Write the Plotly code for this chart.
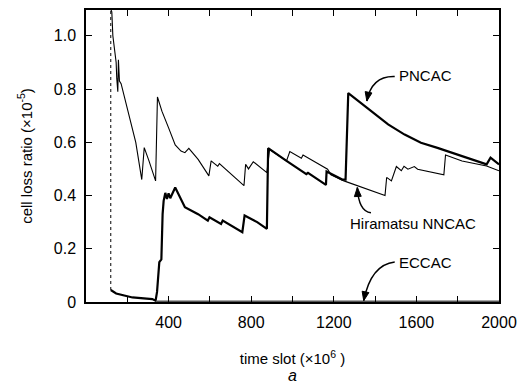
import math
import plotly.graph_objects as go

# Hiramatsu NNCAC (thin line) – initial dotted jump then solid sawtooth decay
hira_jump_t = [120, 120]
hira_jump_y = [0.045, 1.10]
hira_t = [120, 125, 130, 138, 146, 149, 154, 157, 162, 170, 186, 210, 241, 270, 282, 305, 337, 346,
          368, 400, 432, 460, 479, 498, 543, 595, 606, 622, 638, 646, 702, 765, 773, 787, 810,
          876, 889, 924, 971, 987, 1043, 1051, 1170, 1186, 1249, 1448, 1456, 1479, 1503, 1527,
          1540, 1559, 1590, 1606, 1733, 1741, 1781, 1821, 1940, 2000]
hira_y = [1.10, 1.09, 1.00, 0.94, 0.90, 0.84, 0.79, 0.91, 0.83, 0.82, 0.77, 0.70, 0.60, 0.46, 0.58, 0.53,
          0.455, 0.77, 0.716, 0.654, 0.59, 0.567, 0.561, 0.577, 0.536, 0.474, 0.53, 0.52, 0.51,
          0.52, 0.48, 0.437, 0.517, 0.50, 0.527, 0.486, 0.573, 0.555, 0.53, 0.565, 0.54, 0.552,
          0.499, 0.478, 0.455, 0.40, 0.468, 0.455, 0.509, 0.493, 0.51, 0.499, 0.509, 0.499,
          0.478, 0.552, 0.542, 0.53, 0.511, 0.493]

# PNCAC (thick line)
pn_t = [120, 146, 225, 321, 337, 344, 355, 365, 371, 376, 384, 392, 400, 408, 432, 479, 543, 590,
        598, 654, 662, 757, 768, 829, 876, 882, 971, 1067, 1075, 1162, 1165, 1241, 1257, 1270,
        1352, 1463, 1543, 1622, 1702, 1813, 1940, 1959, 2000]
pn_y = [0.045, 0.032, 0.017, 0.011, 0.005, 0.038, 0.15, 0.16, 0.33, 0.38, 0.41, 0.387, 0.408, 0.39,
        0.43, 0.356, 0.33, 0.306, 0.318, 0.293, 0.306, 0.262, 0.325, 0.30, 0.275, 0.578, 0.53,
        0.48, 0.485, 0.44, 0.49, 0.46, 0.46, 0.785, 0.735, 0.667, 0.629, 0.598, 0.579, 0.549,
        0.517, 0.542, 0.517]

# ECCAC (essentially zero)
ec_t = [340, 2000]
ec_y = [0.003, 0.003]

x_ticks = [400, 800, 1200, 1600, 2000]
y_ticks = [0, 0.2, 0.4, 0.6, 0.8, 1.0]
y_labels = ["0", "0.2", "0.4", "0.6", "0.8", "1.0"]

FONT = "Arial, Liberation Sans, Helvetica, sans-serif"

fig = go.Figure()
fig.add_trace(go.Scatter(x=hira_jump_t, y=hira_jump_y, mode="lines",
                         line=dict(color="black", width=1, dash="dot"), showlegend=False))
fig.add_trace(go.Scatter(x=hira_t, y=hira_y, mode="lines",
                         line=dict(color="black", width=1.1), showlegend=False))
fig.add_trace(go.Scatter(x=pn_t, y=pn_y, mode="lines",
                         line=dict(color="black", width=2.2), showlegend=False))
fig.add_trace(go.Scatter(x=ec_t, y=ec_y, mode="lines",
                         line=dict(color="#555", width=1.5), showlegend=False))

axis_common = dict(showgrid=False, zeroline=False, showline=True, linecolor="black",
                   linewidth=1.5, mirror="ticks", ticks="inside", ticklen=6,
                   tickcolor="black", tickfont=dict(family=FONT, size=16, color="black"))

fig.update_xaxes(range=[0, 2000], tickvals=x_ticks, ticktext=[str(v) for v in x_ticks],
                 minor=dict(dtick=200, tick0=0, ticks="inside", ticklen=6, tickcolor="black"),
                 ticklabelstandoff=5,
                 title=dict(text="time slot (×10<sup>6</sup> )", standoff=24,
                            font=dict(family=FONT, size=15, color="black")),
                 **axis_common)
fig.update_yaxes(range=[0, 1.097], tickvals=y_ticks, ticktext=y_labels,
                 ticklabelstandoff=5,
                 title=dict(text="cell loss ratio (×10<sup>-5</sup>)", standoff=18,
                            font=dict(family=FONT, size=15, color="black")),
                 **axis_common)

# pixel scale for annotation callouts
PX_X = 420 / 2000.0
PX_Y = 294 / 1.097


def callout(x0, y0, cx, cy, x1, y1):
    """Curved callout from (x0,y0) to tip (x1,y1) with filled arrowhead (data coords)."""
    fig.add_shape(type="path", path=f"M {x0},{y0} Q {cx},{cy} {x1},{y1}",
                  xref="x", yref="y", line=dict(color="black", width=1.5))
    dx = (x1 - cx) * PX_X
    dy = -(y1 - cy) * PX_Y
    n = math.hypot(dx, dy)
    ux, uy = dx / n, dy / n
    L, W = 9.0, 3.5
    bx, by = -ux * L, -uy * L
    px_, py_ = -uy * W, ux * W
    pts = [(0, 0), (bx + px_, by + py_), (bx - px_, by - py_)]
    coords = [(x1 + p[0] / PX_X, y1 - p[1] / PX_Y) for p in pts]
    path = "M " + " L ".join(f"{a},{b}" for a, b in coords) + " Z"
    fig.add_shape(type="path", path=path, xref="x", yref="y",
                  line=dict(color="black", width=1), fillcolor="black")


callout(1495, 0.847, 1384, 0.85, 1360, 0.755)
callout(1380, 0.335, 1320, 0.34, 1314, 0.43)
callout(1495, 0.15, 1380, 0.14, 1345, 0.005)

fig.add_annotation(x=1505, y=0.85, xref="x", yref="y", text="PNCAC", showarrow=False,
                   xanchor="left", font=dict(family=FONT, size=15, color="black"))
fig.add_annotation(x=1585, y=0.295, xref="x", yref="y", text="Hiramatsu NNCAC", showarrow=False,
                   xanchor="center", font=dict(family=FONT, size=15, color="black"))
fig.add_annotation(x=1505, y=0.15, xref="x", yref="y", text="ECCAC", showarrow=False,
                   xanchor="left", font=dict(family=FONT, size=15, color="black"))
fig.add_annotation(x=0.5, y=-0.25, xref="paper", yref="paper", yanchor="middle",
                   text="<i>a</i>", showarrow=False,
                   font=dict(family=FONT, size=16, color="black"))

fig.update_layout(width=525, height=386, margin=dict(l=86, r=19, t=8, b=84),
                  plot_bgcolor="white", paper_bgcolor="white")

fig.write_html("out.html")
